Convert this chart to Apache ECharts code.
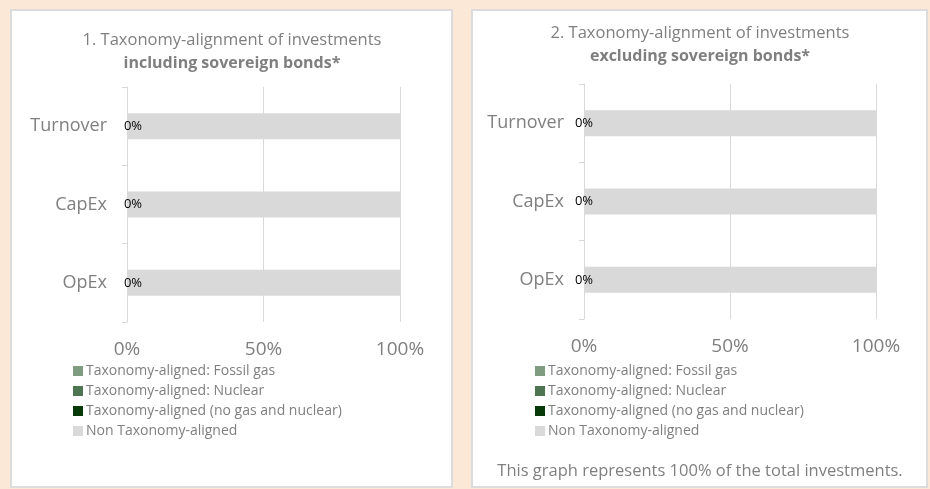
<!DOCTYPE html>
<html>
<head>
<meta charset="utf-8">
<script src="https://cdn.jsdelivr.net/npm/echarts@6/dist/echarts.min.js"></script>
<style>
html,body{margin:0;padding:0;background:#fbe8d6;}
#c{width:930px;height:489px;}
</style>
</head>
<body>
<div id="c"></div>
<script>
const categories = ['Turnover', 'CapEx', 'OpEx'];
const seriesNames = ['Taxonomy-aligned: Fossil gas', 'Taxonomy-aligned: Nuclear', 'Taxonomy-aligned (no gas and nuclear)', 'Non Taxonomy-aligned'];
const seriesColors = ['#7f9b80', '#4e7551', '#073807', '#d9d9d9'];
// chart 1: including sovereign bonds
const incFossilGas = [0, 0, 0];
const incNuclear = [0, 0, 0];
const incAligned = [0, 0, 0];
const incNonAligned = [100, 100, 100];
// chart 2: excluding sovereign bonds
const excFossilGas = [0, 0, 0];
const excNuclear = [0, 0, 0];
const excAligned = [0, 0, 0];
const excNonAligned = [100, 100, 100];
const xTicks = [0, 50, 100];
const titles1 = ['1. Taxonomy-alignment of investments', 'including sovereign bonds*'];
const titles2 = ['2. Taxonomy-alignment of investments', 'excluding sovereign bonds*'];
const footnote = 'This graph represents 100% of the total investments.';

const FONT = 'Open Sans';
const GRAY = '#7f7f7f';
const chart = echarts.init(document.getElementById('c'));

function xAxis(gi) {
  return {
    gridIndex: gi, type: 'value', min: xTicks[0], max: xTicks[xTicks.length - 1], interval: xTicks[1] - xTicks[0],
    axisLine: {show: false}, axisTick: {show: false},
    splitLine: {lineStyle: {color: '#d9d9d9', width: 1}},
    axisLabel: {formatter: '{value}%', color: GRAY, fontSize: 19, fontFamily: FONT, margin: 18}
  };
}
function yAxis(gi) {
  return {
    gridIndex: gi, type: 'category', data: categories, inverse: true,
    axisLine: {lineStyle: {color: '#d9d9d9', width: 1}},
    axisTick: {show: true, length: 5, lineStyle: {color: '#d9d9d9'}},
    axisLabel: {color: GRAY, fontSize: 18, fontFamily: FONT, margin: 20}
  };
}
function mkSeries(gi, arrs, labelOffset) {
  return arrs.map((d, i) => ({
    name: seriesNames[i], type: 'bar', stack: 's' + gi, xAxisIndex: gi, yAxisIndex: gi,
    barWidth: 26, data: d, itemStyle: {color: seriesColors[i]},
    label: i === 2 ? {show: true, position: 'inside', offset: labelOffset, formatter: '{c}%', color: '#000', fontSize: 13, fontFamily: FONT} : {show: false},
    emphasis: {disabled: true}, animation: false
  }));
}
function legend(left) {
  return {
    orient: 'vertical', left: left, top: 364, padding: 0, itemGap: 6, itemWidth: 10, itemHeight: 10,
    icon: 'rect', data: seriesNames,
    textStyle: {color: GRAY, fontSize: 14, fontFamily: FONT, padding: [0, 0, 0, -2]}
  };
}
function title(x, y, lines) {
  return {
    left: x, top: y, textAlign: 'center', padding: 0,
    text: '{a|' + lines[0] + '}\n{b|' + lines[1] + '}',
    textStyle: {fontWeight: 'normal', rich: {
      a: {fontSize: 16.5, color: GRAY, fontFamily: FONT, fontWeight: 'normal', lineHeight: 23},
      b: {fontSize: 16, color: GRAY, fontFamily: FONT, fontWeight: 'bold', lineHeight: 23}
    }}
  };
}

chart.setOption({
  backgroundColor: '#fbe8d6',
  animation: false,
  graphic: [
    {type: 'rect', z: -10, shape: {x: 11, y: 10, width: 441, height: 477}, style: {fill: '#fff', stroke: '#dcdcdc', lineWidth: 2}},
    {type: 'rect', z: -10, shape: {x: 472, y: 10, width: 455, height: 477}, style: {fill: '#fff', stroke: '#dcdcdc', lineWidth: 2}},
    {type: 'text', z: 10, x: 700, y: 471, style: {text: footnote, fill: GRAY, font: '16.5px "Open Sans"', textAlign: 'center', textVerticalAlign: 'middle'}}
  ],
  title: [title(232, 29, titles1), title(700, 22, titles2)],
  legend: [legend(73), legend(535)],
  grid: [
    {left: 127, width: 273, top: 87, height: 235},
    {left: 584, width: 292, top: 84, height: 235}
  ],
  xAxis: [xAxis(0), xAxis(1)],
  yAxis: [yAxis(0), yAxis(1)],
  series: [].concat(
    mkSeries(0, [incFossilGas, incNuclear, incAligned, incNonAligned], [6, 0]),
    mkSeries(1, [excFossilGas, excNuclear, excAligned, excNonAligned], [0, 0])
  )
});
</script>
</body>
</html>
